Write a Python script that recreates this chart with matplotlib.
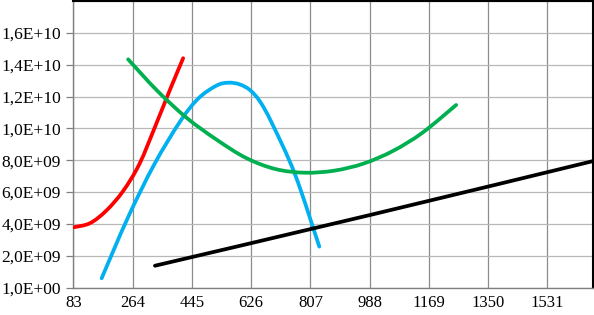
import matplotlib
matplotlib.use("Agg")
import matplotlib.pyplot as plt
from matplotlib.path import Path
from matplotlib.patches import PathPatch

# values
red_x = [84, 134, 184, 234, 284, 334, 376, 418]
red_y = [3.79e9, 4.05e9, 4.85e9, 6.05e9, 7.75e9, 10.2e9, 12.35e9, 14.42e9]

blue_x = [169, 250, 330, 410, 465, 520, 556, 590, 622, 653, 690, 760, 834]
blue_y = [0.58e9, 4.43e9, 7.75e9, 10.48e9, 11.9e9, 12.7e9, 12.88e9, 12.78e9,
          12.42e9, 11.69e9, 10.3e9, 7.1e9, 2.57e9]

green_x = [250, 340, 430, 520, 610, 700, 790, 880, 970, 1060, 1150, 1252]
green_y = [14.35e9, 12.35e9, 10.65e9, 9.3e9, 8.15e9, 7.45e9, 7.22e9, 7.35e9,
           7.8e9, 8.6e9, 9.75e9, 11.48e9]

black_x = [332, 989, 1670]
black_y = [1.37e9, 4.56e9, 7.95e9]

x_ticks = [83, 264, 445, 626, 807, 988, 1169, 1350, 1531]
y_ticks = [0, 2e9, 4e9, 6e9, 8e9, 1.0e10, 1.2e10, 1.4e10, 1.6e10]
y_labels = ["1,0E+00", "2,0E+09", "4,0E+09", "6,0E+09", "8,0E+09",
            "1,0E+10", "1,2E+10", "1,4E+10", "1,6E+10"]


def smooth_line(ax, xs, ys, color):
    # excel-like smoothed line: catmull-rom segments drawn as bezier curves
    pts = list(zip(xs, ys))
    verts = [pts[0]]
    codes = [Path.MOVETO]
    n = len(pts)
    for i in range(n - 1):
        p0 = pts[i - 1] if i > 0 else pts[i]
        p1 = pts[i]
        p2 = pts[i + 1]
        p3 = pts[i + 2] if i + 2 < n else pts[i + 1]
        c1 = (p1[0] + (p2[0] - p0[0]) / 6, p1[1] + (p2[1] - p0[1]) / 6)
        c2 = (p2[0] - (p3[0] - p1[0]) / 6, p2[1] - (p3[1] - p1[1]) / 6)
        verts += [c1, c2, p2]
        codes += [Path.CURVE4] * 3
    patch = PathPatch(Path(verts, codes), fill=False, edgecolor=color,
                      lw=2.7, capstyle="round", zorder=3)
    ax.add_patch(patch)


plt.rcParams['font.family'] = ['Liberation Serif', 'DejaVu Serif']

fig = plt.figure(figsize=(5.94, 3.15), dpi=100)
ax = fig.add_axes([0.1237, 0.0873, 0.8746, 0.9111])

smooth_line(ax, red_x, red_y, "#ff0000")
smooth_line(ax, blue_x, blue_y, "#00b0f0")
smooth_line(ax, green_x, green_y, "#00b050")
smooth_line(ax, black_x, black_y, "#000000")

ax.set_xlim(83, 1670)
ax.set_ylim(0, 1.805e10)
ax.set_xticks(x_ticks)
ax.set_xticklabels([str(v) for v in x_ticks])
ax.set_yticks(y_ticks)
ax.set_yticklabels(y_labels)

ax.xaxis.grid(True, color="#8c8c8c", lw=0.9)
ax.yaxis.grid(True, color="#b8b8b8", lw=0.9)
ax.axhline(1.8e10, color="#b8b8b8", lw=0.9, zorder=0.5)
ax.set_axisbelow(True)

ax.tick_params(axis="x", length=0, pad=5.5, labelsize=12)
ax.tick_params(axis="y", length=5, width=0.9, color="#808080", pad=4, labelsize=12.5)

for s in ["left", "bottom"]:
    ax.spines[s].set_color("#808080")
    ax.spines[s].set_linewidth(1.0)
for s in ["top", "right"]:
    ax.spines[s].set_color("#000000")
    ax.spines[s].set_linewidth(1.5)

fig.savefig("out.png", dpi=100)
